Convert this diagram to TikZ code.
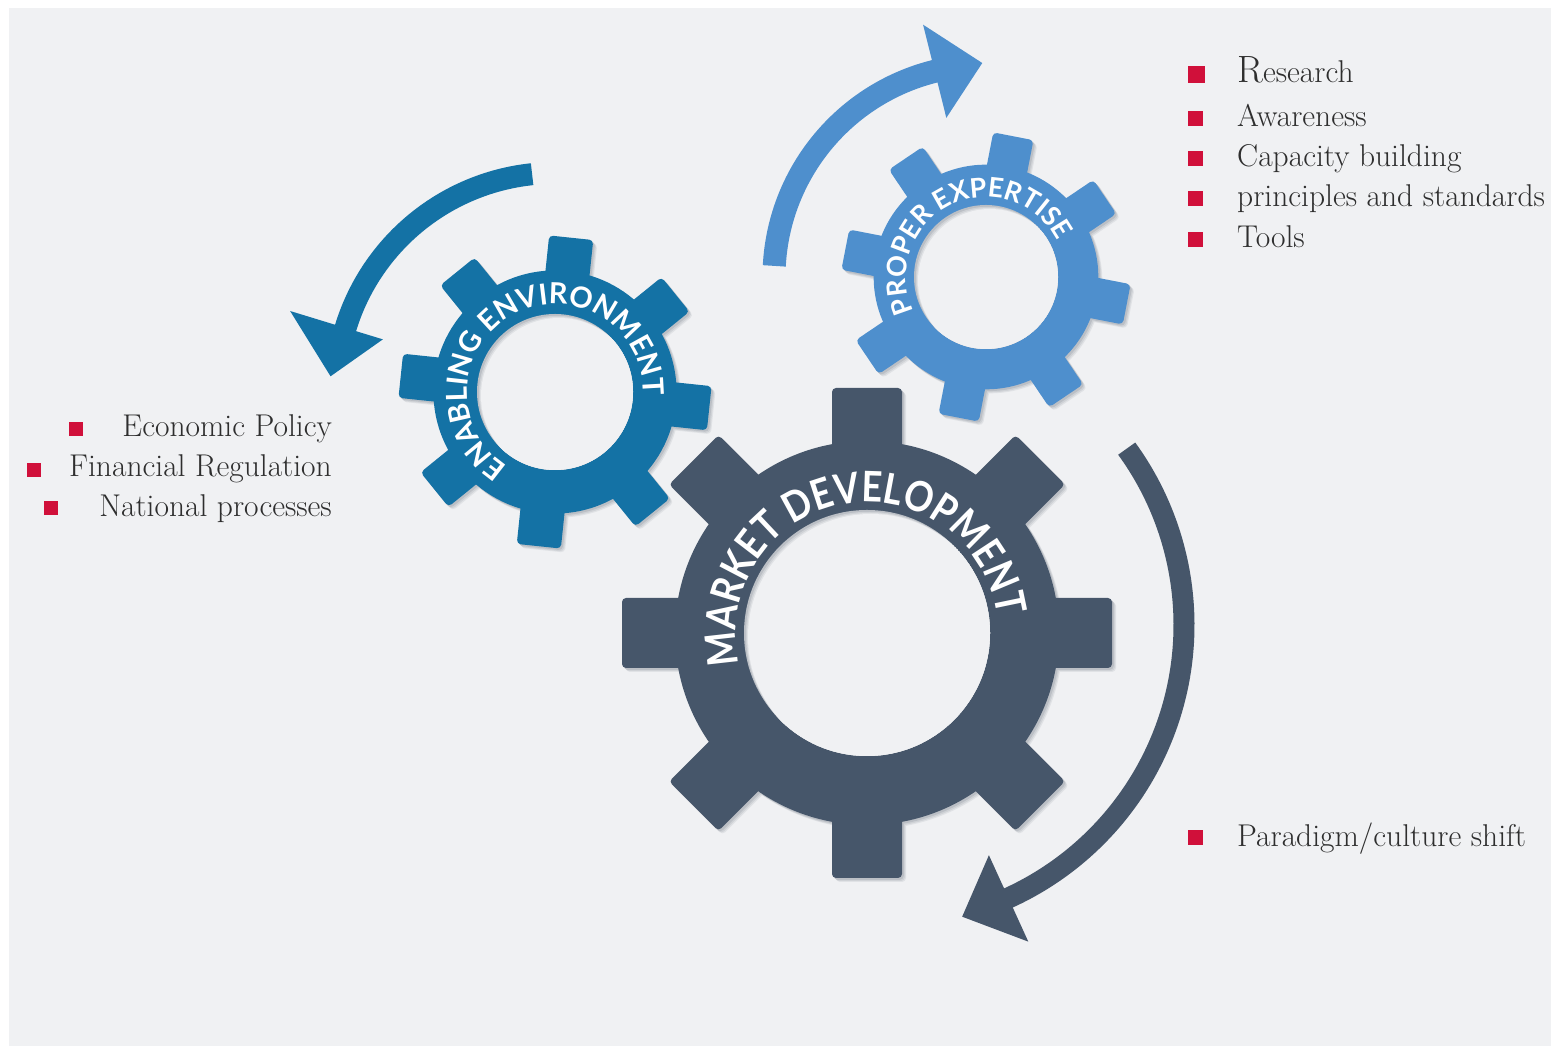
\documentclass[tikz,border=0pt]{standalone}
\usepackage{fontspec}
\newfontfamily\gearfont{Lato}
\newfontfamily\gearfontn{Lato}[FakeStretch=0.86]
\usetikzlibrary{decorations.text}
\definecolor{bg}{HTML}{F0F1F3}
\definecolor{gdark}{HTML}{46566A}
\definecolor{genab}{HTML}{1472A5}
\definecolor{gprop}{HTML}{4E8FCD}
\definecolor{bred}{HTML}{D0103A}
\definecolor{txt}{HTML}{2E2E2E}
\definecolor{shA}{HTML}{E0E2E5}
\definecolor{shB}{HTML}{CFD2D6}
\definecolor{shC}{HTML}{BBBFC5}
\newcommand\gearshape[1]{%
  \fill[#1] (0,0) circle[radius=192pt];
  \foreach \a in {0,45,...,315}
    \fill[#1, rotate=\a, rounded corners=4pt] (-35,165) rectangle (35,245);
}
% #1 x, #2 y, #3 rotation, #4 scale, #5 colour, #6 hole radius
\newcommand\mygear[6]{%
  \foreach \s/\c in {4/shA, 3/shB, 1.8/shC}{%
    \begin{scope}[shift={(\s,-\s)}]
      \begin{scope}[shift={(#1,#2)}, rotate=#3, scale=#4]
        \gearshape{\c}
      \end{scope}
    \end{scope}
  }
  \begin{scope}[shift={(#1,#2)}, rotate=#3, scale=#4]
    \gearshape{#5}
  \end{scope}
  \begin{scope}
    \clip (#1,#2) circle[radius=#6pt];
    \fill[shC] (#1,#2) circle[radius=#6pt+2pt];
    \fill[shB] (#1+1.8,#2-1.8) circle[radius=#6pt];
    \fill[shA] (#1+3,#2-3) circle[radius=#6pt];
    \fill[bg] (#1+4,#2-4) circle[radius=#6pt];
  \end{scope}
}
\tikzset{
  item/.style={font=\fontsize{31.5}{32}\selectfont, text=txt, inner sep=0pt},
  bul/.style={fill=bred, draw=none, rectangle, minimum size=15pt, inner sep=0pt},
}
\begin{document}
\begin{tikzpicture}[x=1pt,y=1pt]
\useasboundingbox (0,0) rectangle (1551,1046);
\fill[white] (0,0) rectangle (1551,1046);
\fill[bg] (9,0) rectangle (1551,1038);

% arrows
\begin{scope}[shift={(986,769)}]
  \draw[gprop, line width=23pt] (177:212pt) arc[start angle=177, end angle=103, radius=212pt];
  \fill[gprop] (104:164pt) -- (104:260pt) -- (91:214pt) -- cycle;
\end{scope}
\begin{scope}[shift={(555,654)}]
  \draw[genab, line width=22pt] (96:219pt) arc[start angle=96, end angle=164, radius=219pt];
  \fill[genab] (163:180pt) -- (163:277pt) -- (176:225pt) -- cycle;
\end{scope}
\begin{scope}[shift={(884,421)}]
  \draw[gdark, line width=21pt] (36:300pt) arc[start angle=36, end angle=-66.5, radius=300pt];
  \fill[gdark] (-65.5:253pt) -- (-65.5:348pt) -- (-75:302pt) -- cycle;
\end{scope}

% gears
\mygear{867}{413}{0}{1}{gdark}{123}
\mygear{555}{654}{-6}{0.633}{genab}{78}
\mygear{986}{769}{-11}{0.585}{gprop}{72}

% gear labels
\path[decorate, decoration={text along path, text align=center, text color=white,
  text={|\gearfontn\bfseries\fontsize{42}{42}\selectfont|MARKET DEVELOPMENT}}]
  (867,413) ++(270:131pt) arc[start angle=270, end angle=-69, radius=131pt];
\path[decorate, decoration={text along path, text align=center, text color=white,
  text={|\gearfont\bfseries\fontsize{29}{29}\selectfont|ENABLING ENVIRONMENT}}]
  (555,654) ++(287:88pt) arc[start angle=287, end angle=-52, radius=88pt];
\path[decorate, decoration={text along path, text align=center, text color=white,
  text={|\gearfont\bfseries\fontsize{27}{27}\selectfont|PROPER EXPERTISE}}]
  (986,769) ++(286:80pt) arc[start angle=286, end angle=-54, radius=80pt];

% right list
\node[bul, minimum size=17pt] (b1) at (1196,971) {};
\node[item, anchor=base west] (t1) at (1237,963) {{\fontsize{38}{38}\selectfont R}esearch};
\node[bul] (b2) at (1195,927) {};
\node[item, anchor=base west] (t2) at (1237,919) {Awareness};
\node[bul] (b3) at (1195,887) {};
\node[item, anchor=base west] (t3) at (1237,879) {Capacity building};
\node[bul] (b4) at (1195,847) {};
\node[item, anchor=base west] (t4) at (1237,839) {principles and standards};
\node[bul] (b5) at (1195,806) {};
\node[item, anchor=base west] (t5) at (1237,798) {Tools};
\node[bul] (b6) at (1195,208) {};
\node[item, anchor=base west] (t6) at (1237,199) {Paradigm/culture shift};

% left list
\node[bul, minimum size=14pt] (l1) at (75.5,617) {};
\node[item, anchor=base east] (s1) at (332,609) {Economic Policy};
\node[bul, minimum size=14pt] (l2) at (34,576) {};
\node[item, anchor=base east] (s2) at (332,569) {Financial Regulation};
\node[bul, minimum size=14pt] (l3) at (51,537.5) {};
\node[item, anchor=base east] (s3) at (332,529) {National processes};
\end{tikzpicture}
\end{document}
